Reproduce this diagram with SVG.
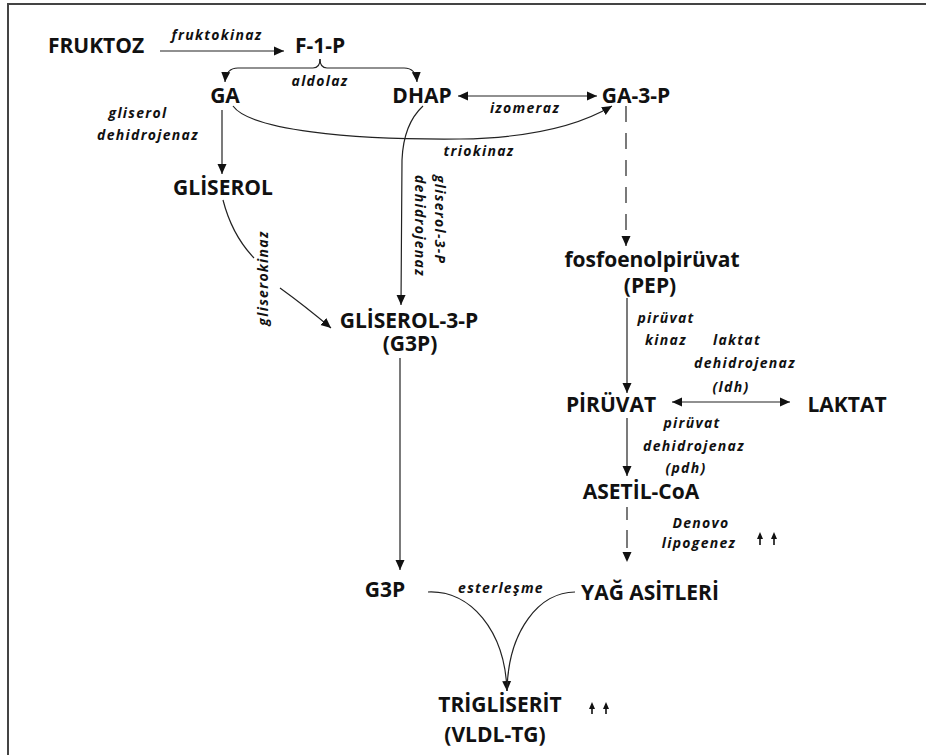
<svg xmlns="http://www.w3.org/2000/svg" width="926" height="755" viewBox="0 0 926 755">
<defs>
<marker id="ah" viewBox="0 0 10 10" refX="10" refY="5" markerWidth="10" markerHeight="10" markerUnits="userSpaceOnUse" orient="auto-start-reverse">
<path d="M0,0.5 L10,5 L0,9.5 Z" fill="#111"/>
</marker>
<style>
.n{font-family:"Open Sans","Liberation Sans",sans-serif;font-weight:bold;font-size:21px;fill:#111;text-anchor:middle}
.e{font-family:"Open Sans","Liberation Sans",sans-serif;font-weight:bold;font-style:italic;font-size:14px;letter-spacing:1.3px;fill:#111;text-anchor:middle}
.c{fill:none;stroke:#222;stroke-width:1.2}
.d{stroke-dasharray:16,11}
.up{fill:#111}
</style>
</defs>
<rect width="926" height="755" fill="#fff"/>
<g id="frame" fill="none" stroke="#444" stroke-width="2">
<path d="M8,755 L8,4 L926,4"/>
</g>

<g id="connectors">
<line class="c" x1="160" y1="51" x2="284" y2="51" marker-end="url(#ah)"/>
<path class="c" d="M320,59 Q320,68 313,68 L238,68 Q226,68 225,82" marker-end="url(#ah)"/>
<path class="c" d="M320,59 Q320,68 327,68 L404,68 Q416,68 417,82" marker-end="url(#ah)"/>
<line class="c" x1="458" y1="96" x2="597" y2="96" marker-start="url(#ah)" marker-end="url(#ah)"/>
<path class="c" d="M233,106 C250,130 350,140 460,139 C530,138 580,125 612,106" marker-end="url(#ah)"/>
<line class="c" x1="222" y1="110" x2="222" y2="174" marker-end="url(#ah)"/>
<path class="c" d="M223,200 Q232,235 254,258"/>
<path class="c" d="M280,288 Q305,306 331,328" marker-end="url(#ah)"/>
<path class="c" d="M423,106 C410,118 403,135 402,160 L401,305" marker-end="url(#ah)"/>
<line class="c" x1="400" y1="358" x2="400" y2="570" marker-end="url(#ah)"/>
<line class="c d" x1="626" y1="106" x2="626" y2="246" marker-end="url(#ah)"/>
<line class="c" x1="627" y1="298" x2="627" y2="393" marker-end="url(#ah)"/>
<line class="c" x1="672" y1="402" x2="790" y2="402" marker-start="url(#ah)" marker-end="url(#ah)"/>
<line class="c" x1="627" y1="418" x2="627" y2="476" marker-end="url(#ah)"/>
<line class="c" x1="627" y1="507" x2="627" y2="562" stroke-dasharray="13,10,18,20" marker-end="url(#ah)"/>
<path class="c" d="M428,592 C470,590 505,630 507,691" marker-end="url(#ah)"/>
<path class="c" d="M575,592 C540,592 508,630 507,691"/>
</g>

<g id="fruktoz"><text class="n" x="96" y="53">FRUKTOZ</text></g>
<g id="f1p"><text class="n" x="320" y="53">F-1-P</text></g>
<g id="ga"><text class="n" x="225" y="103">GA</text></g>
<g id="dhap"><text class="n" x="422" y="103">DHAP</text></g>
<g id="ga3p"><text class="n" x="636" y="103">GA-3-P</text></g>
<g id="gliserol"><text class="n" x="223" y="195">GLİSEROL</text></g>
<g id="g3p-main"><text class="n" x="409" y="328">GLİSEROL-3-P</text><text class="n" x="410" y="351">(G3P)</text></g>
<g id="pep"><text class="n" x="652" y="267">fosfoenolpirüvat</text><text class="n" x="650" y="293">(PEP)</text></g>
<g id="piruvat"><text class="n" x="611" y="412">PİRÜVAT</text></g>
<g id="laktat"><text class="n" x="847" y="412">LAKTAT</text></g>
<g id="asetilcoa"><text class="n" x="641" y="499">ASETİL-CoA</text></g>
<g id="g3p"><text class="n" x="385" y="597">G3P</text></g>
<g id="yag"><text class="n" x="650" y="600">YAĞ ASİTLERİ</text></g>
<g id="trigliserit"><text class="n" x="500" y="712">TRİGLİSERİT</text><text class="n" x="495" y="742">(VLDL-TG)</text></g>

<g id="labels">
<text class="e" x="217" y="40">fruktokinaz</text>
<text class="e" x="320" y="86">aldolaz</text>
<text class="e" x="525" y="113">izomeraz</text>
<text class="e" x="479" y="156">triokinaz</text>
<text class="e" x="138" y="118">gliserol</text>
<text class="e" x="148" y="140">dehidrojenaz</text>
<text class="e" transform="translate(268,278) rotate(-90)">gliserokinaz</text>
<text class="e" style="text-anchor:start" transform="translate(435,175) rotate(90)">gliserol-3-P</text>
<text class="e" style="text-anchor:start" transform="translate(415,175) rotate(90)">dehidrojenaz</text>
<text class="e" x="666" y="323">pirüvat</text>
<text class="e" x="666" y="345">kinaz</text>
<text class="e" x="737" y="345">laktat</text>
<text class="e" x="745" y="368">dehidrojenaz</text>
<text class="e" x="731" y="392">(ldh)</text>
<text class="e" x="692" y="428">pirüvat</text>
<text class="e" x="694" y="451">dehidrojenaz</text>
<text class="e" x="686" y="473">(pdh)</text>
<text class="e" x="701" y="528">Denovo</text>
<text class="e" x="699" y="548">lipogenez</text>
<text class="e" x="501" y="593">esterleşme</text>
</g>

<g id="increase-denovo" class="up">
<path d="M760,532 L763,539 L760.8,539 L760.8,545 L759.2,545 L759.2,539 L757,539 Z"/>
<path d="M774,532 L777,539 L774.8,539 L774.8,545 L773.2,545 L773.2,539 L771,539 Z"/>
</g>
<g id="increase-tg" class="up">
<path d="M592,702 L595,709 L592.8,709 L592.8,714 L591.2,714 L591.2,709 L589,709 Z"/>
<path d="M606,702 L609,709 L606.8,709 L606.8,714 L605.2,714 L605.2,709 L603,709 Z"/>
</g>
</svg>
